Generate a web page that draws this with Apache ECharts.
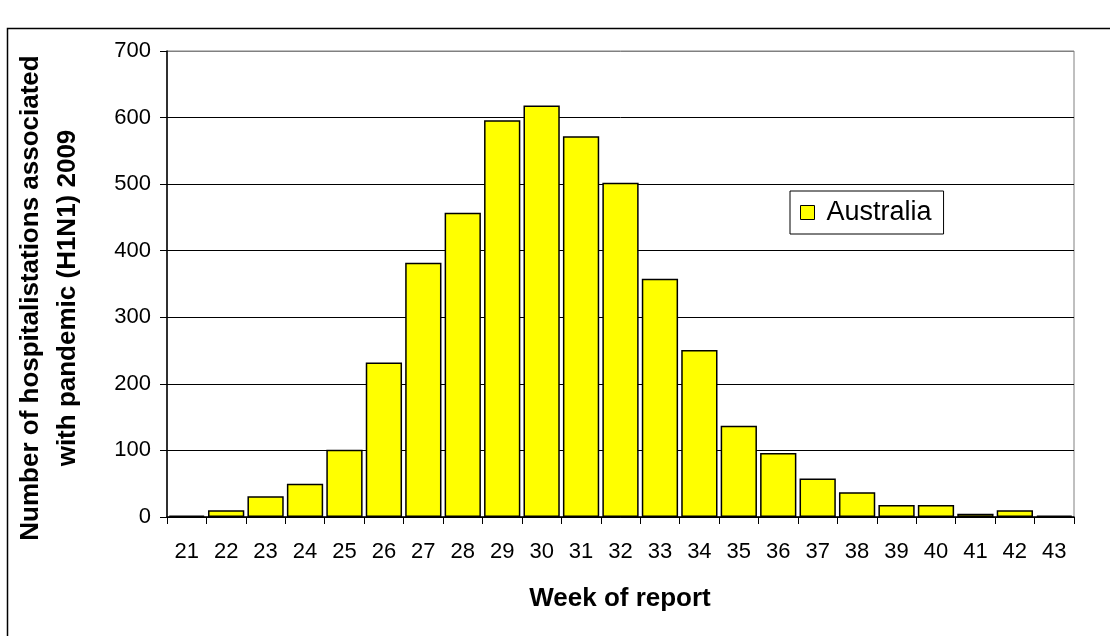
<!DOCTYPE html>
<html>
<head>
<meta charset="utf-8">
<style>
  html, body { margin: 0; padding: 0; background: #fff; }
  #chart { width: 1110px; height: 636px; }
</style>
<script src="https://cdn.jsdelivr.net/npm/echarts@6/dist/echarts.min.js"></script>
</head>
<body>
<div id="chart"></div>
<script>
// Weekly hospitalisations associated with pandemic (H1N1) 2009, Australia
const weeks = ['21','22','23','24','25','26','27','28','29','30','31','32','33','34','35','36','37','38','39','40','41','42','43'];
const australia = [2, 10, 31, 50, 101, 232, 382, 457, 596, 618, 572, 502, 358, 251, 137, 96, 58, 37, 18, 18, 5, 10, 2];
const yTicks = [0, 100, 200, 300, 400, 500, 600, 700];
const seriesName = 'Australia';
const xTitle = 'Week of report';
const yTitle = 'Number of hospitalistations associated\nwith pandemic (H1N1) 2009';

const FONT = '"Liberation Sans", Arial, sans-serif';
const chart = echarts.init(document.getElementById('chart'), null, { renderer: 'canvas' });

// top gridline doubles as the grey plot-area border
const gridColors = yTicks.map((v, i) => i === yTicks.length - 1 ? '#808080' : '#000');

chart.setOption({
  animation: false,
  backgroundColor: '#fff',
  grid: {
    left: 167, right: 36, top: 51, bottom: 119,
    show: true, borderColor: '#808080', borderWidth: 1, backgroundColor: 'transparent'
  },
  legend: {
    data: [seriesName],
    left: 790, top: 191,
    orient: 'vertical',
    padding: [8, 12, 8, 10],
    borderColor: '#000', borderWidth: 1,
    backgroundColor: '#fff',
    icon: 'rect', itemWidth: 14, itemHeight: 14,
    itemStyle: { borderColor: '#000', borderWidth: 1 },
    textStyle: { fontFamily: FONT, fontSize: 27, color: '#000', padding: [0, 0, 0, 7] }
  },
  xAxis: {
    type: 'category',
    data: weeks,
    boundaryGap: true,
    axisLine: { lineStyle: { color: '#000', width: 1.5 } },
    axisTick: { show: true, alignWithLabel: false, length: 7, lineStyle: { color: '#000', width: 1 } },
    axisLabel: { fontFamily: FONT, fontSize: 22, color: '#000', margin: 24, interval: 0 },
    splitLine: { show: false }
  },
  yAxis: {
    type: 'value',
    min: yTicks[0], max: yTicks[yTicks.length - 1], interval: 100,
    axisLine: { show: true, lineStyle: { color: '#000', width: 1.5 } },
    axisTick: { show: true, length: 7, lineStyle: { color: '#000', width: 1 } },
    axisLabel: { fontFamily: FONT, fontSize: 22, color: '#000', margin: 16 },
    splitLine: { show: true, lineStyle: { color: gridColors, width: 1 } }
  },
  series: [{
    name: seriesName,
    type: 'bar',
    data: australia,
    barCategoryGap: '8%',
    itemStyle: { color: '#FFFF00', borderColor: '#000', borderWidth: 1.5 }
  }],
  graphic: [
    {
      type: 'rect',
      shape: { x: 7.5, y: 28.5, width: 1300, height: 800 },
      style: { fill: 'none', stroke: '#000', lineWidth: 1.5 },
      silent: true, z: -1
    },
    {
      type: 'text',
      x: 620, y: 599,
      style: {
        text: xTitle, fontFamily: FONT, fontSize: 26, fontWeight: 'bold',
        fill: '#000', align: 'center', verticalAlign: 'middle'
      }
    },
    {
      type: 'text',
      x: 49, y: 298,
      rotation: Math.PI / 2,
      style: {
        text: yTitle, fontFamily: FONT, fontSize: 26, fontWeight: 'bold', lineHeight: 37,
        fill: '#000', align: 'center', verticalAlign: 'middle'
      }
    }
  ]
});
</script>
</body>
</html>
